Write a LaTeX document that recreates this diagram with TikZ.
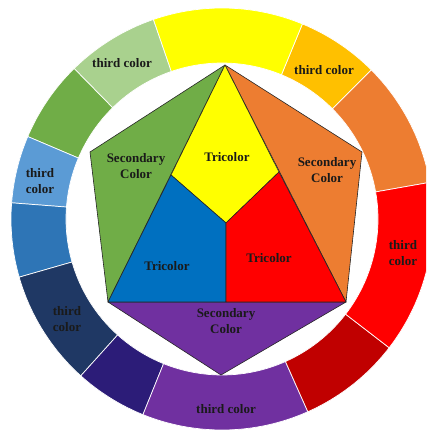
\documentclass[tikz,border=0pt]{standalone}
\usepackage{fontspec}
\setmainfont{Liberation Serif}
\definecolor{cOrange}{HTML}{ED7D31}
\definecolor{cYelOr}{HTML}{FFC000}
\definecolor{cYellow}{HTML}{FFFF00}
\definecolor{cLGreen}{HTML}{A9D18E}
\definecolor{cGreen}{HTML}{70AD47}
\definecolor{cLBlue}{HTML}{5B9BD5}
\definecolor{cBlue}{HTML}{2E75B6}
\definecolor{cNavy}{HTML}{1F3864}
\definecolor{cIndigo}{HTML}{2C1C78}
\definecolor{cPurple}{HTML}{7030A0}
\definecolor{cDRed}{HTML}{C00000}
\definecolor{cRed}{HTML}{FF0000}
\definecolor{cTriBlue}{HTML}{0070C0}
\definecolor{cText}{HTML}{1A1A1A}
\begin{document}
\begin{tikzpicture}[x=1pt,y=1pt,
  lbl/.style={font=\fontsize{13}{16}\selectfont\bfseries, text=cText, align=center, inner sep=0pt},
  face/.style={draw=black!85, line width=0.6pt, line join=round},
  ringseg/.style={draw=white, line width=0.7pt}]
\useasboundingbox (0,0) rectangle (426,-431);
\clip (0,0) rectangle (426,-431);
% colour ring
\begin{scope}[shift={(222,-219)}]
  \foreach \a/\b/\c in {10/45/cOrange, 45/67.6/cYelOr, 67.6/109/cYellow,
      109/134.5/cLGreen, 134.5/157/cGreen, 157/175.6/cLBlue, 175.6/196/cBlue,
      196/228/cNavy, 228/248/cIndigo, 248/294/cPurple, 294/322.4/cDRed, 322.4/370/cRed}{
    \fill[\c, ringseg] (\a:211) arc[start angle=\a, end angle=\b, radius=211]
      -- (\b:156) arc[start angle=\b, end angle=\a, radius=156] -- cycle;
  }
\end{scope}
% pentagon points
\coordinate (A)  at (225,-65);
\coordinate (LU) at (90,-152);
\coordinate (RU) at (362,-152);
\coordinate (BL) at (108,-302);
\coordinate (BR) at (346,-302);
\coordinate (BB) at (221,-375);
\coordinate (YL) at (171,-175);
\coordinate (YR) at (279,-172);
\coordinate (C)  at (226,-223);
\coordinate (CB) at (226,-302);
% faces
\fill[cGreen, face] (A) -- (LU) -- (BL) -- cycle;
\fill[cOrange, face] (A) -- (RU) -- (BR) -- cycle;
\fill[cPurple, face] (BL) -- (BR) -- (BB) -- cycle;
\fill[cYellow, face] (A) -- (YR) -- (C) -- (YL) -- cycle;
\fill[cTriBlue, face] (YL) -- (C) -- (CB) -- (BL) -- cycle;
\fill[cRed, face] (YR) -- (C) -- (CB) -- (BR) -- cycle;
% labels on ring
\node[lbl] (t1) at (122,-63) {third color};
\node[lbl] (t2) at (324,-70) {third color};
\node[lbl] (t3) at (40,-181) {third\\color};
\node[lbl] (t4) at (67,-319) {third\\color};
\node[lbl] (t5) at (226,-409) {third color};
\node[lbl] (t6) at (403,-253) {third\\color};
% labels on pentagon
\node[lbl] (s1) at (136,-166) {Secondary\\Color};
\node[lbl] (s2) at (327,-170) {Secondary\\Color};
\node[lbl] (s3) at (226,-321) {Secondary\\Color};
\node[lbl] (p1) at (227,-157) {Tricolor};
\node[lbl] (p2) at (167,-266) {Tricolor};
\node[lbl] (p3) at (269,-258) {Tricolor};
\end{tikzpicture}
\end{document}
